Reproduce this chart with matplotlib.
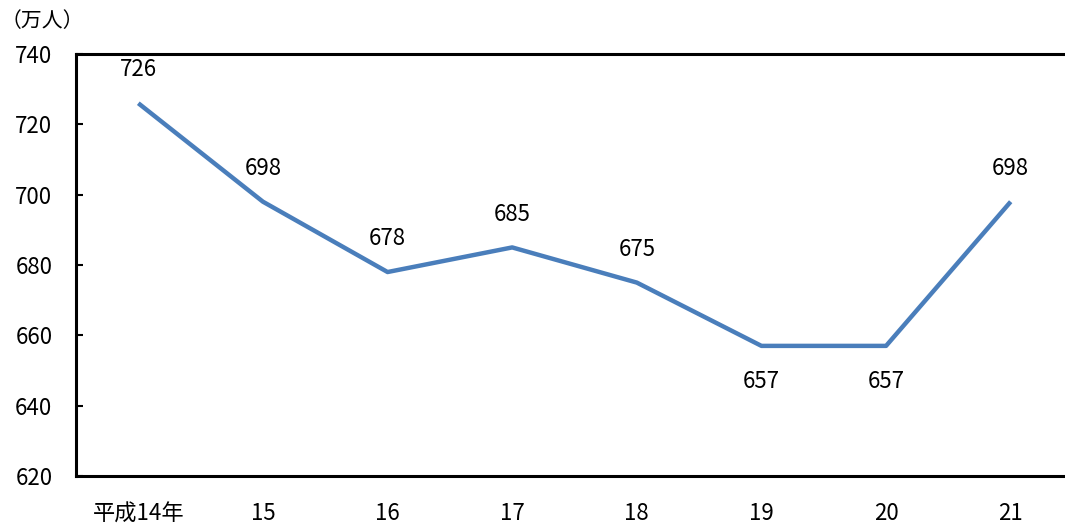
import matplotlib
matplotlib.use("Agg")
import matplotlib.pyplot as plt

plt.rcParams['font.family'] = ['Noto Sans CJK JP', 'DejaVu Sans']

years = ["平成14年", "15", "16", "17", "18", "19", "20", "21"]
workers = [726, 698, 678, 685, 675, 657, 657, 698]
y_ticks = [620, 640, 660, 680, 700, 720, 740]

W, H = 1065, 525
fig = plt.figure(figsize=(W / 100, H / 100), dpi=100)
left, right, top, bottom = 76, 1073, 54, 476
ax = fig.add_axes([left / W, 1 - bottom / H, (right - left) / W, (bottom - top) / H])

x = list(range(len(years)))
ax.plot(x, workers, color="#4a7ebb", linewidth=3.2, solid_capstyle="butt", zorder=3)

fs = 16
for xi, v in zip(x, workers):
    dy = -26 if v == 657 else 24
    ax.annotate(str(v), (xi, v), xytext=(0, dy), textcoords="offset points",
                ha="center", va="center", fontsize=fs)

ax.set_xlim(-0.5, len(years) - 0.5)
ax.set_ylim(620, 740)
ax.set_yticks(y_ticks)
ax.set_yticklabels([str(t) for t in y_ticks], fontsize=fs)
ax.set_xticks(x)
ax.set_xticklabels(years, fontsize=fs)
ax.tick_params(axis="y", direction="in", length=5, width=1.5, pad=17)
ax.tick_params(axis="x", length=0, pad=19)

for side in ["left", "top", "bottom"]:
    ax.spines[side].set_linewidth(2.2)
    ax.spines[side].set_color("black")
ax.spines["right"].set_visible(False)

fig.text(1 / W, 1 - 21 / H, "（万人）", fontsize=15, ha="left", va="center")

fig.savefig("out.png", dpi=100)
